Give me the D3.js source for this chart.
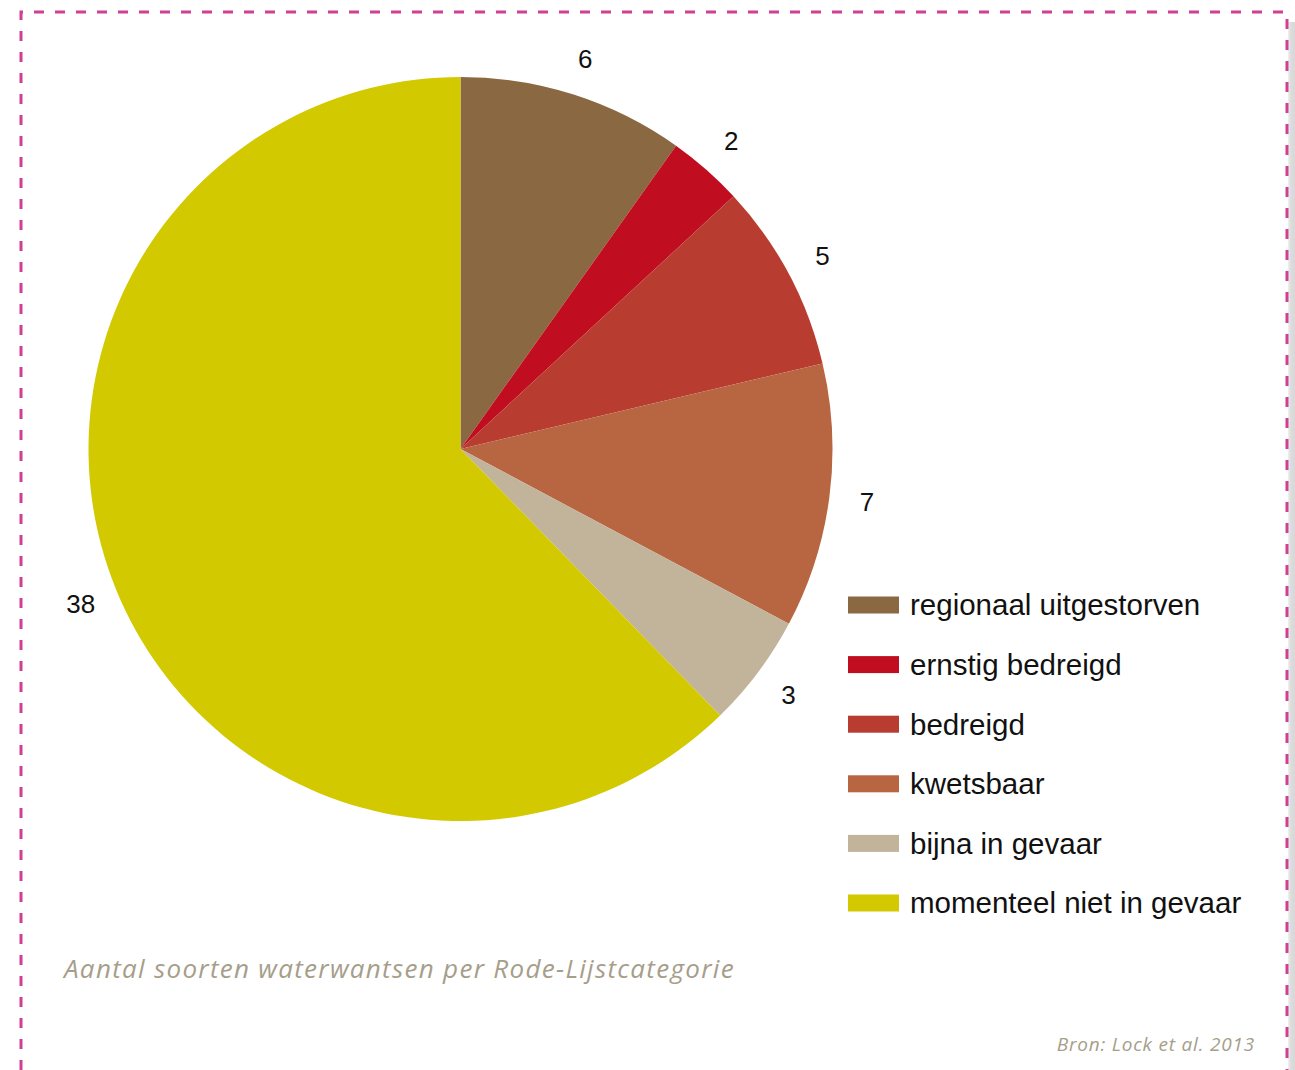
<!DOCTYPE html>
<html>
<head>
<meta charset="utf-8">
<script src="https://cdn.jsdelivr.net/npm/d3@7"></script>
<style>
  html, body { margin: 0; padding: 0; background: #fff; }
  svg { display: block; }
</style>
</head>
<body>
<svg id="chart" width="1295" height="1070"></svg>
<script>
// Red List categories for water bugs and their species counts
const categories = [
  "regionaal uitgestorven",
  "ernstig bedreigd",
  "bedreigd",
  "kwetsbaar",
  "bijna in gevaar",
  "momenteel niet in gevaar"
];
const counts = [6, 2, 5, 7, 3, 38];
const colors = ["#8a6942", "#c00d1f", "#b83c30", "#b86541", "#c2b49b", "#d3c900"];

const caption = "Aantal soorten waterwantsen per Rode-Lijstcategorie";
const source = "Bron: Lock et al. 2013";

const svg = d3.select("#chart");
const W = 1295, H = 1070;

// right-hand grey page edge
const edge = svg.append("defs").append("linearGradient").attr("id", "edgeGrad");
edge.append("stop").attr("offset", "0%").attr("stop-color", "#f0f0f0");
edge.append("stop").attr("offset", "40%").attr("stop-color", "#dcdcdc");
edge.append("stop").attr("offset", "100%").attr("stop-color", "#d8d8d8");
svg.append("rect").attr("x", 1288).attr("y", 22).attr("width", 7).attr("height", H - 22)
  .attr("fill", "url(#edgeGrad)");

// dashed magenta frame
svg.append("path")
  .attr("d", `M21,1070 L21,12 L1287,12 L1287,1070`)
  .attr("fill", "none")
  .attr("stroke", "#cf3f93")
  .attr("stroke-width", 3)
  .attr("stroke-dasharray", "10,11");

// pie
const cx = 460.5, cy = 449, r = 372;
const color = d3.scaleOrdinal().domain(categories).range(colors);
const pie = d3.pie().sort(null).value(d => d.value);
const data = categories.map((c, i) => ({ name: c, value: counts[i] }));
const arcs = pie(data);
const arc = d3.arc().innerRadius(0).outerRadius(r);
const labelArc = d3.arc().innerRadius(410).outerRadius(410);

const g = svg.append("g").attr("transform", `translate(${cx},${cy})`);
g.selectAll("path.slice")
  .data(arcs)
  .join("path")
  .attr("class", "slice")
  .attr("d", arc)
  .attr("fill", d => color(d.data.name));

g.selectAll("text.val")
  .data(arcs)
  .join("text")
  .attr("class", "val")
  .attr("transform", d => `translate(${labelArc.centroid(d)})`)
  .attr("text-anchor", "middle")
  .attr("dy", "0.35em")
  .attr("font-family", "Liberation Sans, Arial, sans-serif")
  .attr("font-size", 26)
  .attr("fill", "#111")
  .text(d => d.data.value);

// legend
const ly = d3.scalePoint().domain(categories).range([605, 903]);
const legend = svg.append("g");
const rows = legend.selectAll("g.row").data(categories).join("g")
  .attr("class", "row")
  .attr("transform", d => `translate(848,${ly(d)})`);
rows.append("rect")
  .attr("x", 0).attr("y", -8.5).attr("width", 51).attr("height", 17)
  .attr("fill", d => color(d));
rows.append("text")
  .attr("x", 62).attr("dy", "0.35em")
  .attr("font-family", "Liberation Sans, Arial, sans-serif")
  .attr("font-size", 29.5)
  .attr("fill", "#111")
  .text(d => d);

// caption and source
svg.append("text")
  .attr("x", 64).attr("y", 978)
  .attr("font-family", "Open Sans, sans-serif")
  .attr("font-style", "italic")
  .attr("font-size", 26)
  .attr("letter-spacing", 1.3)
  .attr("fill", "#a69e8a")
  .text(caption);

svg.append("text")
  .attr("x", 1255).attr("y", 1051)
  .attr("text-anchor", "end")
  .attr("font-family", "Open Sans, sans-serif")
  .attr("font-style", "italic")
  .attr("font-size", 19)
  .attr("letter-spacing", 0.8)
  .attr("fill", "#a69e8a")
  .text(source);
</script>
</body>
</html>
